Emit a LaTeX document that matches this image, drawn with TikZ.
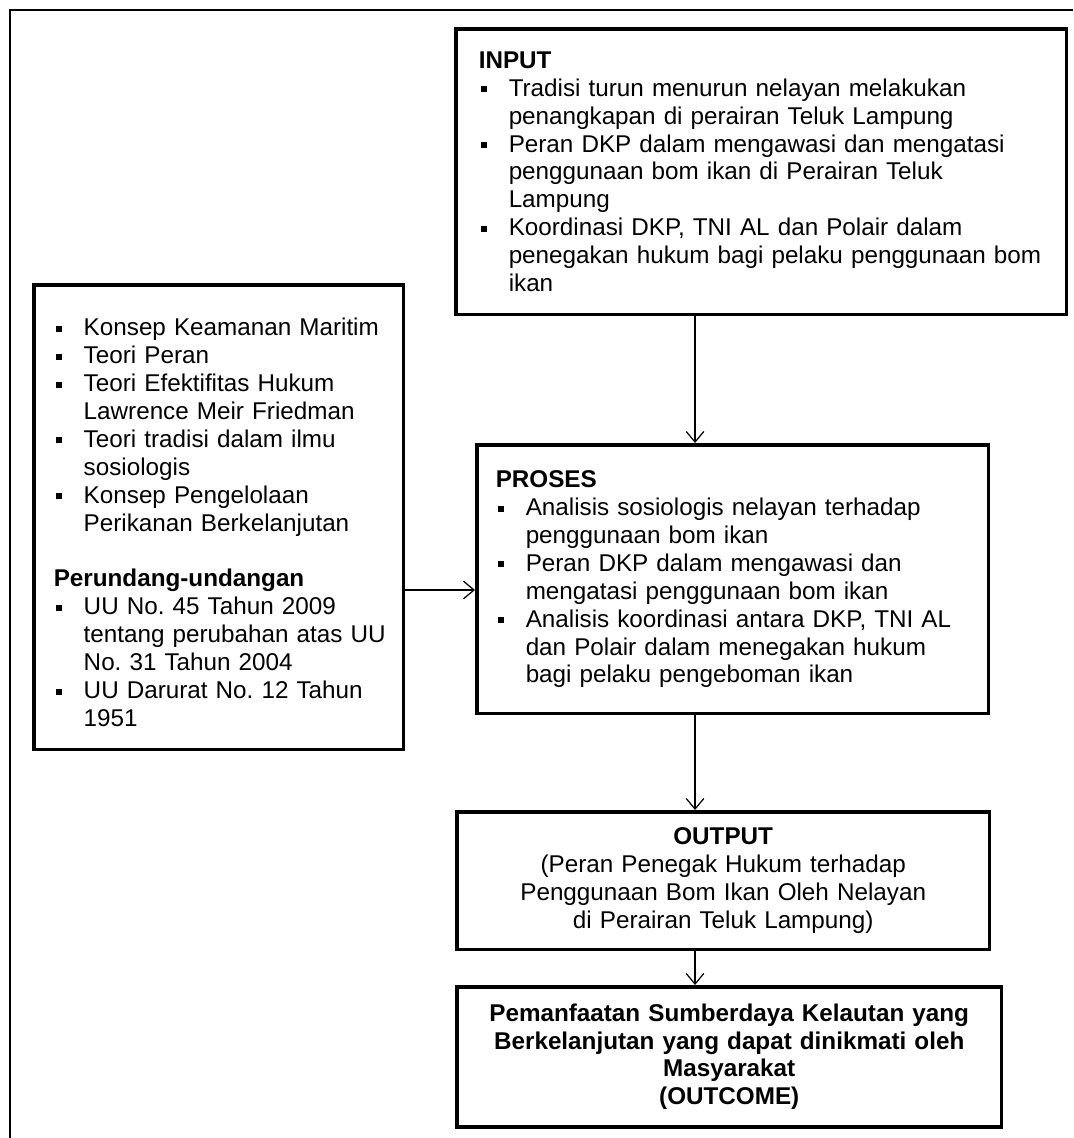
\documentclass[tikz,border=0pt]{standalone}
\usepackage{fontspec}
\setmainfont{Liberation Sans}
\usepackage{enumitem}
\usetikzlibrary{arrows.meta}
\frenchspacing
\setlist[itemize]{label=\rule[0.3ex]{3.4pt}{3.4pt}, align=left, leftmargin=0.6cm, labelindent=0.04cm, labelwidth=0.12cm, labelsep=0.44cm, itemsep=0pt, topsep=0pt, parsep=0pt, partopsep=0pt}
\tikzset{
    frame-box/.style = {draw, line width=2pt, rectangle, anchor=north west, align=left, inner ysep=0pt, font=\fontsize{13.8}{15.9}\selectfont},
    link/.style = {-{Straight Barb[length=6pt,width=10pt]}, line width=0.7pt},
}

\begin{document}
\begin{tikzpicture}[x=0.02cm, y=-0.02cm]
\useasboundingbox (0,0) rectangle (1073,1138);
\draw[line width=1.2pt] (10,1138) -- (10,10) -- (1073,10);

\node[frame-box, text width=11.3cm, inner xsep=0.46cm, minimum width=12.22cm, minimum height=5.72cm] (input) at (454,27) {%
\textbf{INPUT}
\begin{itemize}
\item Tradisi turun menurun nelayan melakukan\\ penangkapan di perairan Teluk Lampung
\item Peran DKP dalam mengawasi dan mengatasi\\ penggunaan bom ikan di Perairan Teluk\\ Lampung
\item Koordinasi DKP, TNI AL dan Polair dalam\\ penegakan hukum bagi pelaku penggunaan bom\\ ikan
\end{itemize}};

\node[frame-box, text width=6.6cm, inner xsep=0.4cm, minimum width=7.4cm, minimum height=9.3cm] (teori) at (32,283) {%
\begin{itemize}
\item Konsep Keamanan Maritim
\item Teori Peran
\item Teori Efektifitas Hukum\\ Lawrence Meir Friedman
\item Teori tradisi dalam ilmu\\ sosiologis
\item Konsep Pengelolaan\\ Perikanan Berkelanjutan
\end{itemize}
\vspace{\baselineskip}
\textbf{Perundang-undangan}
\begin{itemize}
\item UU No. 45 Tahun 2009\\ \mbox{tentang perubahan atas UU}\\ No. 31 Tahun 2004
\item UU Darurat No. 12 Tahun\\ 1951
\end{itemize}};

\node[frame-box, text width=9.48cm, inner xsep=0.38cm, minimum width=10.24cm, minimum height=5.38cm] (proses) at (475,443) {%
\textbf{PROSES}
\begin{itemize}
\item Analisis sosiologis nelayan terhadap\\ penggunaan bom ikan
\item Peran DKP dalam mengawasi dan\\ mengatasi penggunaan bom ikan
\item Analisis koordinasi antara DKP, TNI AL\\ dan Polair dalam menegakan hukum\\ bagi pelaku pengeboman ikan
\end{itemize}};

\node[frame-box, align=center, text width=10cm, inner xsep=0.33cm, minimum width=10.66cm, minimum height=2.76cm] (output) at (455,810) {%
\textbf{OUTPUT}\\ (Peran Penegak Hukum terhadap\\ Penggunaan Bom Ikan Oleh Nelayan\\ di Perairan Teluk Lampung)};

\node[frame-box, align=center, text width=10.2cm, inner xsep=0.35cm, minimum width=10.9cm, minimum height=2.8cm, font=\fontsize{13.8}{15.9}\selectfont\bfseries] (outcome) at (455,985) {%
Pemanfaatan Sumberdaya Kelautan yang\\ Berkelanjutan yang dapat dinikmati oleh\\ Masyarakat\\ (OUTCOME)};

\coordinate (spine) at (695,0);
\coordinate (side) at (0,590);
\draw[link] (input.south -| spine) -- (proses.north -| spine);
\draw[link] (proses.south -| spine) -- (output.north -| spine);
\draw[link] (output.south -| spine) -- (outcome.north -| spine);
\draw[link] (teori.east |- side) -- (proses.west |- side);
\end{tikzpicture}
\end{document}
